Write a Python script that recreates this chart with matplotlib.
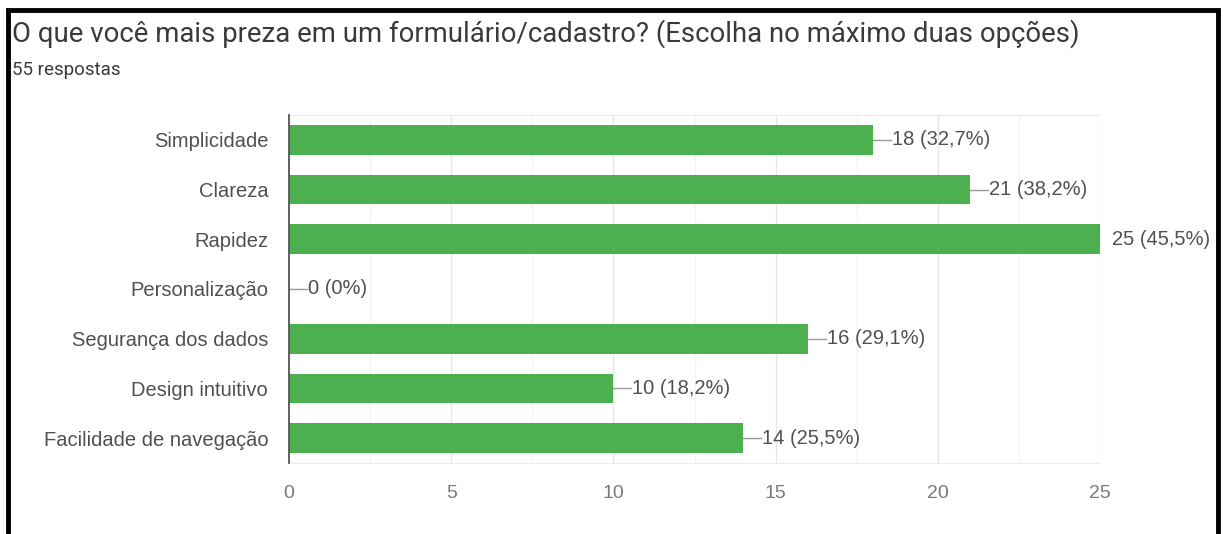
import numpy as np
import matplotlib
matplotlib.use("Agg")
from matplotlib import pyplot as plt
from matplotlib.patches import Rectangle
from matplotlib.ticker import MultipleLocator

# ============================================================
# data
# ============================================================
categories = ["Simplicidade", "Clareza", "Rapidez", "Personalização",
              "Segurança dos dados", "Design intuitivo", "Facilidade de navegação"]
counts = [18, 21, 25, 0, 16, 10, 14]
pct_labels = ["32,7%", "38,2%", "45,5%", "0%", "29,1%", "18,2%", "25,5%"]

title = "O que você mais preza em um formulário/cadastro? (Escolha no máximo duas opções)"
subtitle = "55 respostas"

green = "#4caf50"
chart_font = ["Liberation Sans", "DejaVu Sans"]

fig = plt.figure(figsize=(12.24, 5.34), dpi=100)
ax = fig.add_axes([289 / 1224, 1 - 463 / 534, (1100 - 289) / 1224, 348 / 534])

y = np.arange(len(categories))
ax.barh(y, counts, height=0.6, color=green, zorder=3)
ax.set_ylim(len(categories) - 0.5, -0.5)
ax.set_xlim(0, 25)

ax.set_yticks(y)
ax.set_yticklabels(categories, family=chart_font, fontsize=14.5, color="#505050")
ax.xaxis.set_major_locator(MultipleLocator(5))
ax.xaxis.set_minor_locator(MultipleLocator(2.5))
for lab in ax.get_xticklabels():
    lab.set_family(chart_font)
ax.tick_params(axis="x", which="both", length=0, labelsize=14, labelcolor="#7a7a7a", pad=16)
ax.tick_params(axis="y", length=0, pad=15)

ax.grid(axis="x", which="major", color="#e6e6e6", linewidth=1, zorder=0)
ax.grid(axis="x", which="minor", color="#f3f3f3", linewidth=1, zorder=0)

for s in ["top", "bottom"]:
    ax.spines[s].set_color("#ececec")
ax.spines["right"].set_visible(False)
ax.spines["left"].set_color("#555555")
ax.spines["left"].set_linewidth(1.3)
ax.spines["left"].set_zorder(4)

# value labels with short leader lines
for yi, v, p in zip(y, counts, pct_labels):
    ax.plot([v, v + 0.55], [yi, yi], color="#999999", linewidth=1, zorder=2, clip_on=True)
    tx = v + 0.58 if v + 0.55 < 25 else v + 0.37
    ax.text(tx, yi, f"{v} ({p})", va="center", ha="left", family=chart_font,
            fontsize=14.5, color="#505050", clip_on=False)

# title and subtitle
fig.text(12 / 1224, 1 - 34 / 534, title, family=["Roboto", "DejaVu Sans"], fontsize=19.8,
         color="#3a3a3a", va="center", ha="left")
fig.text(12 / 1224, 1 - 70 / 534, subtitle, family=["Roboto", "DejaVu Sans"], fontsize=13.5,
         color="#3a3a3a", va="center", ha="left")

# black frame around the screenshot
fig.patches.append(Rectangle((7.5 / 1224, -0.05), (1218 - 7.5) / 1224, 1.05 - 10 / 534,
                             transform=fig.transFigure, fill=False, edgecolor="black",
                             linewidth=3.5))

plt.savefig("out.png", dpi=100)
